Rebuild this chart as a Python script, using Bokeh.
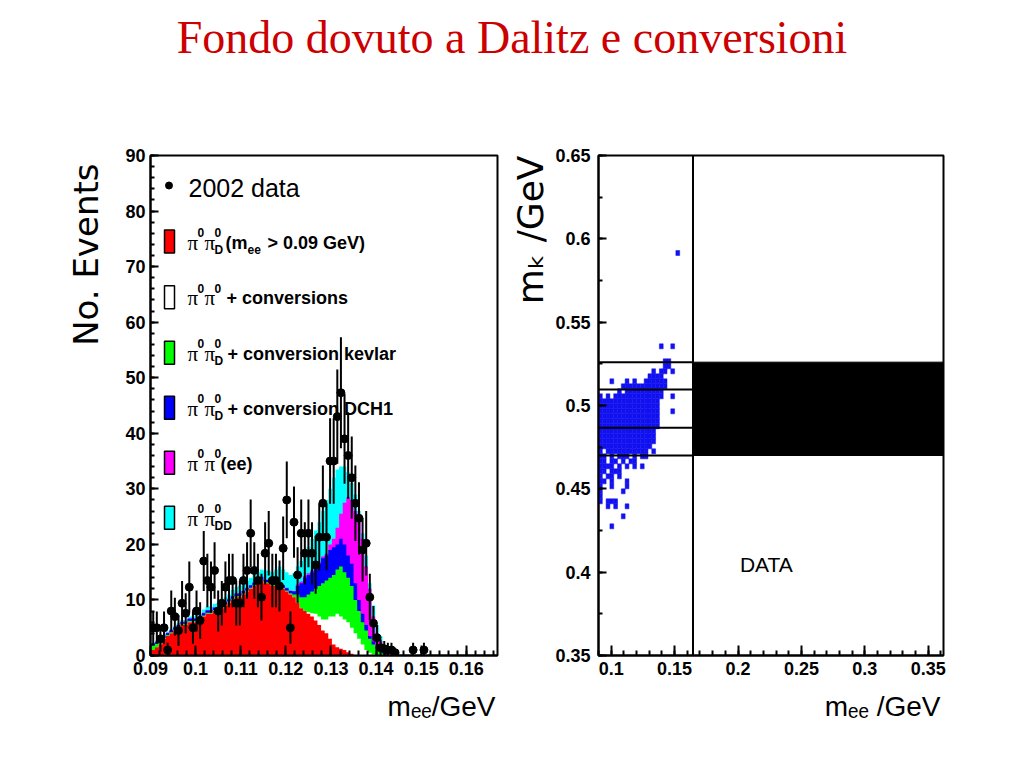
import numpy as np
from bokeh.plotting import figure
from bokeh.models import Range1d, FixedTicker, Label, Div, Title
from bokeh.layouts import column, row
from bokeh.embed import file_html
from bokeh.resources import INLINE

TITLE = "Fondo dovuto a Dalitz e conversioni"

# ---------------- left panel: m_ee spectrum ----------------
bin_width = 0.0008
first_edge = 0.0902

# stacked MC components (bottom to top), events per bin
comp_red = [1.0, 1.5, 2.0, 3.0, 3.5, 4.0, 4.5, 5.0, 5.5, 5.5,
            6.0, 6.0, 6.0, 6.5, 7.0, 7.5, 7.5, 8.0, 8.0, 8.5,
            9.0, 9.5, 10.0, 10.5, 10.5, 11.0, 11.5, 12.0, 12.5, 13.0,
            13.5, 13.0, 13.0, 12.5, 12.5, 12.0, 12.0, 11.5, 11.0, 10.5,
            9.5, 8.5, 8.0, 7.5, 7.0, 6.3, 5.5, 4.5, 4.0, 3.0,
            2.0, 1.5, 1.2, 1.0, 0.6, 0.3, 0, 0, 0, 0,
            0, 0, 0, 0, 0, 0, 0, 0, 0, 0]
comp_white = [0] * 40 + [0, 0, 0, 0.3, 0.6, 1.2, 1.5, 2.0, 2.5, 4.0,
                         5.0, 6.0, 5.8, 5.5, 5.4, 4.7, 4.0, 3.0, 2.0, 1.0,
                         0.5, 0.2, 0, 0, 0, 0, 0, 0, 0, 0]
comp_green = [0.8, 0.6, 0.4, 0.2, 0.2, 0.2, 0.2, 0.2, 0.2, 0.2,
              0.2, 0.2, 0.2, 0.2, 0.2, 0.2, 0.2, 0.2, 0.2, 0.2,
              0.2, 0.2, 0.2, 0.2, 0.2, 0.2, 0.2, 0.2, 0.2, 0.2,
              0.2, 0.2, 0.2, 0.2, 0.2, 0.2, 0.2, 0.2, 0.2, 0.5,
              1.5, 2.0, 2.5, 3.2, 3.9, 4.5, 5.5, 6.5, 7.0, 7.0,
              7.5, 8.0, 9.0, 8.5, 8.0, 7.5, 6.0, 5.0, 4.0, 3.5,
              2.5, 1.8, 1.2, 0.6, 0.3, 0, 0, 0, 0, 0]
comp_blue = [0.3] * 10 + [0.4] * 29 + [0.5,
             1.5, 2.5, 3.5, 3.5, 3.5, 4.0, 4.0, 4.5, 4.5, 5.0,
             5.0, 4.5, 5.0, 5.0, 4.0, 4.0, 3.0, 2.0, 1.5, 1.0,
             0.5, 0.5, 0.3, 0.2, 0.1, 0, 0, 0, 0, 0]
comp_magenta = [0.1] * 40 + [0.3, 0.3, 0.3, 0.3, 0.3, 0.3, 0.3, 0.3, 0.3, 1.0,
                             1.5, 3.0, 4.5, 7.5, 10.5, 11.5, 13.0, 14.0, 13.5, 10.5,
                             8.5, 4.5, 2.5, 1.7, 1.1, 0.8, 0.4, 0, 0, 0]
comp_cyan = [0.2, 0.2, 0.2, 0.2, 0.2, 0.2, 0.2, 0.3, 0.3, 0.3,
             0.3, 0.3, 0.5, 0.3, 0.6, 0.6, 0.6, 0.6, 0.8, 0.8,
             0.8, 0.8, 1.1, 1.1, 1.3, 1.3, 1.3, 1.3, 1.3, 1.3,
             1.3, 1.6, 1.6, 1.8, 2.3, 3.3, 2.8, 2.8, 2.8, 3.2,
             3.2, 3.7, 3.7, 4.7, 5.7, 6.2, 7.2, 8.2, 9.7, 10.0,
             11.0, 10.5, 8.5, 6.5, 4.5, 3.0, 3.0, 2.0, 1.0, 2.0,
             1.0, 2.0, 1.5, 1.0, 0.5, 0.4, 0.2, 0.3, 0, 0]
stack_colors = ["#ff0000", "#ffffff", "#00ff00", "#0000ff", "#ff00ff", "#00ffff"]

# 2002 data (per bin, same binning)
data_counts = [5, 5, 3, 5, 1, 8, 7, 4.5, 9.4, 7.6,
               12.3, 5, 8, 6.3, 17, 13.5, 12.3, 15.3, 8, 9.4,
               12.3, 13.5, 13.5, 9.4, 9.4, 13.5, 15.3, 22, 15.3, 13.5,
               10.5, 18.4, 20.2, 13.5, 13.5, 12.5, 19.3, 28, 5, 24,
               14.5, 22, 18.4, 22, 18.4, 16.3, 21.3, 27.4, 21.3, 35,
               35, 43, 47.3, 39, 36, 32, 27.4, 24.7, 19, 20.2,
               10.5, 5.8, 3.2, 1.4, 1.2, 1.0, 1.0, 0.5, None, None,
               None, None, 1, None, None, 1, None, None, None, None]
data_errors = [2.9, 2.9, 2.3, 2.9, 1.3, 3.7, 3.4, 2.8, 4.0, 3.6,
               4.6, 2.9, 3.7, 3.3, 5.4, 4.8, 4.6, 5.1, 3.7, 4.0,
               4.6, 4.8, 4.8, 4.0, 4.0, 4.8, 5.1, 6.1, 5.1, 4.8,
               4.2, 5.6, 5.8, 4.8, 4.8, 4.6, 5.7, 6.9, 2.9, 6.4,
               5.0, 6.1, 5.6, 6.1, 5.6, 5.2, 6.0, 6.8, 6.0, 7.7,
               7.7, 8.5, 10.0, 8.1, 7.8, 7.4, 6.8, 6.5, 5.7, 5.8,
               4.2, 3.1, 2.3, 1.5, 1.4, 1.3, 1.3, 0.9, None, None,
               None, None, 1.3, None, None, 1.3, None, None, None, None]

left_x_range = (0.09, 0.1669)
left_y_range = (0, 90)
left_x_ticks = [0.09, 0.1, 0.11, 0.12, 0.13, 0.14, 0.15, 0.16]
left_x_labels = ["0.09", "0.1", "0.11", "0.12", "0.13", "0.14", "0.15", "0.16"]
left_y_ticks = [0, 10, 20, 30, 40, 50, 60, 70, 80, 90]
left_y_labels = ["0", "10", "20", "30", "40", "50", "60", "70", "80", "90"]
left_x_title = "mₑₑ/GeV"
left_y_title = "No. Events"

legend_y = [84.6, 74.5, 64.5, 54.5, 44.6, 34.7, 24.8]

# ---------------- right panel: m_K vs m_ee ----------------
right_x_range = (0.09, 0.362)
right_y_range = (0.35, 0.65)
right_x_ticks = [0.1, 0.15, 0.2, 0.25, 0.3, 0.35]
right_x_labels = ["0.1", "0.15", "0.2", "0.25", "0.3", "0.35"]
right_y_ticks = [0.35, 0.4, 0.45, 0.5, 0.55, 0.6, 0.65]
right_y_labels = ["0.35", "0.4", "0.45", "0.5", "0.55", "0.6", "0.65"]
right_x_title = "mₑₑ /GeV"
right_y_title = "mₖ /GeV"
mee_cut = 0.1645
mk_band_lines = [0.470, 0.4866, 0.5096, 0.526]
mk_band = (0.470, 0.526)
data_label_pos = (0.2015, 0.4)

# occupancy of the data scatter: cell (j, k) at x = x0 + j*dx, y = ytop - k*dy
scatter_x0 = 0.0915
scatter_dx = 0.003
scatter_ytop = 0.5385
scatter_dy = 0.003
scatter_rows = [
    "",
    "................#..#",
    "",
    "",
    ".................##",
    ".................##",
    "..............#.##.#",
    ".............####",
    "...#...#.#..######",
    "......############",
    ".....#.##########",
    "#.#.#############..#",
    "################",
    "################",
    "################...#",
    "################",
    "################",
    "################",
    "###############",
    "###############",
    "###############",
    "##############",
    "#.###########.#",
    "##.#.###.#.##",
    "##.##.#.##",
    "####.#.#.#.#",
    "##.###",
    "#.##.#",
    "##.#...#",
    "#..#...#",
    "#.....#",
    "#",
    "#.###",
    "..#.#..#",
    "",
    "......#",
    "",
    "...#",
]
outlier_x = [0.1525]
outlier_y = [0.5915]
scatter_color = "#1010f0"

ARIAL = "Liberation Sans"
SANS = "DejaVu Sans"
SERIF = "Liberation Serif"

FRAME_TOP = 55
FRAME_H = 500
BOTTOM = 100
LABEL_LIFT = 8  # px: compensates the renderer's baseline placement of Label texts


def make_fig(xr, yr, width, bl, br):
    p = figure(width=width, height=FRAME_TOP + FRAME_H + BOTTOM,
               x_range=Range1d(*xr), y_range=Range1d(*yr),
               output_backend="svg", toolbar_location=None,
               min_border_left=bl, min_border_right=br,
               min_border_top=FRAME_TOP, min_border_bottom=BOTTOM)
    p.grid.visible = False
    p.outline_line_color = "black"
    p.outline_line_width = 2
    p.background_fill_color = "white"
    p.border_fill_color = "white"
    for ax in (p.xaxis[0], p.yaxis[0]):
        ax.axis_line_width = 2
        ax.major_tick_out = 0
        ax.minor_tick_out = 0
        ax.major_tick_line_width = 2
        ax.minor_tick_line_width = 2
        ax.major_label_text_font = ARIAL
        ax.major_label_text_font_style = "bold"
        ax.major_label_text_font_size = "18px"
        ax.major_label_text_color = "black"
    p.xaxis[0].major_tick_in = 10
    p.xaxis[0].minor_tick_in = 5
    p.yaxis[0].major_tick_in = 8
    p.yaxis[0].minor_tick_in = 4
    p.xaxis[0].major_label_standoff = 6
    return p


def add_text(p, x, y, text, size, font=ARIAL, style="normal"):
    p.add_layout(Label(x=x, y=y, text=text, text_font=font, text_font_size=f"{size}px",
                       text_font_style=style, text_align="left",
                       text_baseline="alphabetic", text_color="black"))


def add_title(p, side, text, size, font, offset, standoff):
    t = Title(text=text, align="right", text_font=font, text_font_size=f"{size}px",
              text_font_style="normal", text_color="black", offset=offset)
    if "standoff" in t.properties():
        t.standoff = standoff
    p.add_layout(t, side)


# ===== left figure =====
LW = 347
p1 = make_fig(left_x_range, left_y_range, 150 + LW + 5, 150, 5)
p1.xaxis[0].ticker = FixedTicker(ticks=left_x_ticks,
                                 minor_ticks=[round(0.09 + 0.002 * i, 4) for i in range(39)])
p1.xaxis[0].major_label_overrides = dict(zip(left_x_ticks, left_x_labels))
p1.yaxis[0].ticker = FixedTicker(ticks=left_y_ticks, minor_ticks=list(range(0, 91, 2)))
p1.yaxis[0].major_label_overrides = dict(zip(left_y_ticks, left_y_labels))
p1.yaxis[0].major_label_standoff = 5


# page-pixel -> data helper (for legend text placement only)
def lx(px):
    return left_x_range[0] + (px - 150) * (left_x_range[1] - left_x_range[0]) / LW


PXY = (left_y_range[1] - left_y_range[0]) / FRAME_H  # data units per pixel (y)

components = [comp_red, comp_white, comp_green, comp_blue, comp_magenta, comp_cyan]
nb = len(comp_red)
edges = first_edge + bin_width * np.arange(nb + 1)
cum = np.cumsum(np.array(components, dtype=float), axis=0)
for layer in range(len(components) - 1, -1, -1):
    top = cum[layer]
    xs = [edges[0]]
    ys = [0.0]
    for i in range(nb):
        xs += [edges[i], edges[i + 1]]
        ys += [top[i], top[i]]
    xs.append(edges[-1])
    ys.append(0.0)
    p1.patch(xs, ys, fill_color=stack_colors[layer], line_color=None)

centers = first_edge + bin_width * (np.arange(len(data_counts)) + 0.5)
dx_, dy_, de_ = [], [], []
for c, v, e in zip(centers, data_counts, data_errors):
    if v is not None:
        dx_.append(c)
        dy_.append(v)
        de_.append(e)
dx_ = np.array(dx_)
dy_ = np.array(dy_)
de_ = np.array(de_)
p1.segment(x0=dx_, y0=dy_ - de_, x1=dx_, y1=dy_ + de_, line_color="black", line_width=2)
p1.scatter(dx_, dy_, marker="circle", size=8, fill_color="black", line_color="black")

# legend
p1.scatter([lx(168.5)], [legend_y[0]], marker="circle", size=7, fill_color="black", line_color="black")
add_text(p1, lx(188), legend_y[0] + (LABEL_LIFT - 10) * PXY, "2002 data", 25, ARIAL, "normal")
sw_x = [lx(169)] * 6
p1.rect(x=sw_x, y=legend_y[1:], width=10, height=23, width_units="screen", height_units="screen",
        fill_color=stack_colors, line_color="black", line_width=1.5)

LEVEL = {"base": -9, "sup": 1, "sub": -16}
MAIN = 18
SMALL = 12
pipi = [("π", 0, "base", 21, SERIF, "normal"), ("0", 10, "sup", SMALL, ARIAL, "bold"),
        ("π", 17, "base", 21, SERIF, "normal"), ("0", 27, "sup", SMALL, ARIAL, "bold")]
subD = [("D", 27, "sub", SMALL, ARIAL, "bold")]
legend_lines = [
    pipi + subD + [("(m", 38, "base", MAIN, ARIAL, "bold"), ("ee", 60, "sub", SMALL, ARIAL, "bold"),
                   ("> 0.09 GeV)", 80, "base", MAIN, ARIAL, "bold")],
    pipi + [("+ conversions", 39, "base", MAIN, ARIAL, "bold")],
    pipi + subD + [("+ conversion kevlar", 40, "base", MAIN, ARIAL, "bold")],
    pipi + subD + [("+ conversion DCH1", 40, "base", MAIN, ARIAL, "bold")],
    pipi + [("(ee)", 33, "base", MAIN, ARIAL, "bold")],
    pipi + [("DD", 27, "sub", SMALL, ARIAL, "bold")],
]
for yc, pieces in zip(legend_y[1:], legend_lines):
    for text, dxp, lvl, size, font, style in pieces:
        add_text(p1, lx(187 + dxp), yc + (LEVEL[lvl] + LABEL_LIFT) * PXY, text, size, font, style)

# axis titles (left)
add_title(p1, "left", left_y_title, 34, SANS, 8, 33)
add_title(p1, "below", left_x_title, 28, ARIAL, 2, 23)

# ===== right figure =====
RW = 345
p2 = make_fig(right_x_range, right_y_range, 96 + RW + 20, 96, 20)
p2.xaxis[0].ticker = FixedTicker(ticks=right_x_ticks,
                                 minor_ticks=[round(0.09 + 0.01 * i, 3) for i in range(28)])
p2.xaxis[0].major_label_overrides = dict(zip(right_x_ticks, right_x_labels))
p2.yaxis[0].ticker = FixedTicker(ticks=right_y_ticks,
                                 minor_ticks=[round(0.35 + 0.025 * i, 4) for i in range(13)])
p2.yaxis[0].major_label_overrides = dict(zip(right_y_ticks, right_y_labels))
p2.yaxis[0].major_label_standoff = 8

sx, sy = [], []
for k, rowstr in enumerate(scatter_rows):
    for j, ch in enumerate(rowstr):
        if ch == "#":
            sx.append(scatter_x0 + j * scatter_dx)
            sy.append(scatter_ytop - k * scatter_dy)
p2.rect(x=sx, y=sy, width=scatter_dx, height=scatter_dy, fill_color=scatter_color,
        line_color=scatter_color, line_width=0.5)
p2.rect(x=outlier_x, y=outlier_y, width=scatter_dx, height=scatter_dy, fill_color=scatter_color,
        line_color=scatter_color, line_width=0.5)

p2.quad(left=[mee_cut], right=[right_x_range[1]], bottom=[mk_band[0]], top=[mk_band[1]],
        fill_color="black", line_color="black")
p2.segment(x0=[right_x_range[0]] * len(mk_band_lines), y0=mk_band_lines,
           x1=[mee_cut] * len(mk_band_lines), y1=mk_band_lines, line_color="black", line_width=2)
p2.segment(x0=[mee_cut], y0=[right_y_range[0]], x1=[mee_cut], y1=[right_y_range[1]],
           line_color="black", line_width=2)

RPXY = (right_y_range[1] - right_y_range[0]) / FRAME_H
add_text(p2, data_label_pos[0], data_label_pos[1] + LABEL_LIFT * RPXY, "DATA", 21, ARIAL, "normal")

add_title(p2, "left", right_y_title, 36, SANS, 0, 4)
add_title(p2, "below", right_x_title, 28, ARIAL, 3, 23)

title = Div(text=('<div style="box-sizing:border-box;width:1016px;padding-left:8px;'
                  'text-align:center;font-family:\'Liberation Serif\';'
                  'font-size:46px;line-height:50px;padding-top:13px;color:#cc0000;">'
                  + TITLE + '</div>'),
            width=1016, height=100, margin=0)

layout = column(title, row(p1, p2))
open("out.html", "w").write(file_html(layout, INLINE))
